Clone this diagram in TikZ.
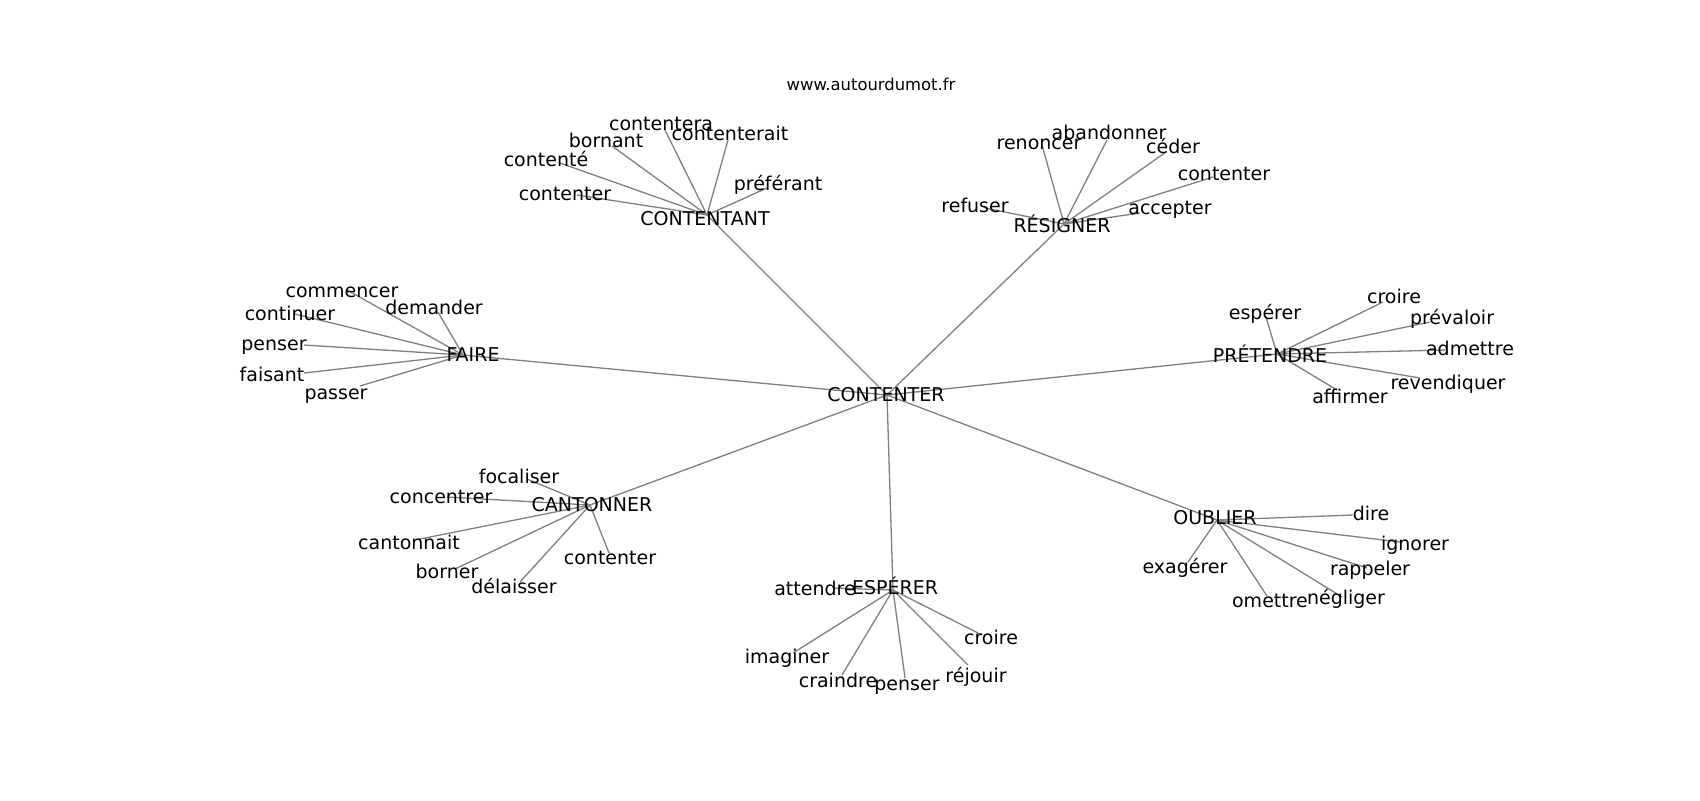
\documentclass[tikz,border=0pt]{standalone}
\usepackage{fontspec}
\setmainfont{DejaVu Sans}
\pgfdeclarelayer{bg}
\pgfsetlayers{bg,main}
\tikzset{
  lbl/.style={inner sep=0pt, text=black, font=\fontsize{9.5}{11}\selectfont, text height=0.95em, text depth=0.2em},
  title/.style={inner sep=0pt, text=black, font=\fontsize{8.2}{10}\selectfont, text height=0.95em, text depth=0.2em},
  edge/.style={draw=black!50, line width=0.65pt}
}
\newcommand\mkleaf[5]{%
  \coordinate (#2) at (#3);
  \node[lbl] (#2t) at (#4) {#5};
  \begin{pgfonlayer}{bg}\draw[edge] (#1) -- (#2);\end{pgfonlayer}}
\newcommand\mkhub[4]{%
  \coordinate (#1) at (#2);
  \node[lbl] (#1t) at (#3) {#4};}
\begin{document}
\begin{tikzpicture}[x=0.5pt,y=-0.5pt]
\begin{pgfonlayer}{bg}
\fill[white] (0,0) rectangle (1700,800);
\end{pgfonlayer}
\useasboundingbox (0,0) rectangle (1700,800);
\node[title] (site) at (871,83) {www.autourdumot.fr};
% hubs
\mkhub{c}{887,395}{886,394}{CONTENTER}
\mkhub{fa}{463,355}{473,354}{FAIRE}
\mkhub{ct}{707,215}{705,218}{CONTENTANT}
\mkhub{rs}{1064,224}{1062,225}{RÉSIGNER}
\mkhub{pr}{1277,354}{1270,355}{PRÉTENDRE}
\mkhub{ca}{590,505}{592,504}{CANTONNER}
\mkhub{es}{893,590}{895,587}{ESPÉRER}
\mkhub{ou}{1217,520}{1215,517}{OUBLIER}
\begin{pgfonlayer}{bg}
\foreach \h in {fa,ct,rs,pr,ca,es,ou} \draw[edge] (c) -- (\h);
\end{pgfonlayer}
% FAIRE
\mkleaf{fa}{fa1}{347,290}{342,290}{commencer}
\mkleaf{fa}{fa2}{438,312}{434,307}{demander}
\mkleaf{fa}{fa3}{295,314}{290,313}{continuer}
\mkleaf{fa}{fa4}{304,345}{274,343}{penser}
\mkleaf{fa}{fa5}{304,373}{272,374}{faisant}
\mkleaf{fa}{fa6}{360,386}{336,392}{passer}
% CONTENTANT
\mkleaf{ct}{ct1}{577,195}{565,193}{contenter}
\mkleaf{ct}{ct2}{560,163}{546,159}{contenté}
\mkleaf{ct}{ct3}{612,146}{606,140}{bornant}
\mkleaf{ct}{ct4}{665,130}{661,123}{contentera}
\mkleaf{ct}{ct5}{728,140}{730,133}{contenterait}
\mkleaf{ct}{ct6}{767,188}{778,183}{préférant}
% RESIGNER
\mkleaf{rs}{rs1}{985,208}{975,205}{refuser}
\mkleaf{rs}{rs2}{1042,145}{1039,142}{renoncer}
\mkleaf{rs}{rs3}{1107,140}{1109,132}{abandonner}
\mkleaf{rs}{rs4}{1166,152}{1173,146}{céder}
\mkleaf{rs}{rs5}{1213,177}{1224,173}{contenter}
\mkleaf{rs}{rs6}{1140,213}{1170,207}{accepter}
% PRETENDRE
\mkleaf{pr}{pr1}{1266,317}{1265,312}{espérer}
\mkleaf{pr}{pr2}{1383,302}{1394,296}{croire}
\mkleaf{pr}{pr3}{1430,322}{1452,317}{prévaloir}
\mkleaf{pr}{pr4}{1447,350}{1470,348}{admettre}
\mkleaf{pr}{pr5}{1420,378}{1448,382}{revendiquer}
\mkleaf{pr}{pr6}{1337,390}{1350,396}{affirmer}
% CANTONNER
\mkleaf{ca}{ca1}{527,479}{519,476}{focaliser}
\mkleaf{ca}{ca2}{447,497}{441,496}{concentrer}
\mkleaf{ca}{ca3}{420,539}{409,542}{cantonnait}
\mkleaf{ca}{ca4}{455,569}{447,571}{borner}
\mkleaf{ca}{ca5}{520,582}{514,586}{délaisser}
\mkleaf{ca}{ca6}{609,553}{610,557}{contenter}
% ESPERER
\mkleaf{es}{es1}{833,588}{815,588}{attendre}
\mkleaf{es}{es2}{793,653}{787,656}{imaginer}
\mkleaf{es}{es3}{842,675}{838,680}{craindre}
\mkleaf{es}{es4}{905,678}{907,683}{penser}
\mkleaf{es}{es5}{968,665}{976,675}{réjouir}
\mkleaf{es}{es6}{982,635}{991,637}{croire}
% OUBLIER
\mkleaf{ou}{ou1}{1353,515}{1371,513}{dire}
\mkleaf{ou}{ou2}{1400,542}{1415,543}{ignorer}
\mkleaf{ou}{ou3}{1367,568}{1370,568}{rappeler}
\mkleaf{ou}{ou4}{1342,597}{1346,597}{négliger}
\mkleaf{ou}{ou5}{1267,596}{1270,600}{omettre}
\mkleaf{ou}{ou6}{1188,562}{1185,566}{exagérer}
\end{tikzpicture}
\end{document}
